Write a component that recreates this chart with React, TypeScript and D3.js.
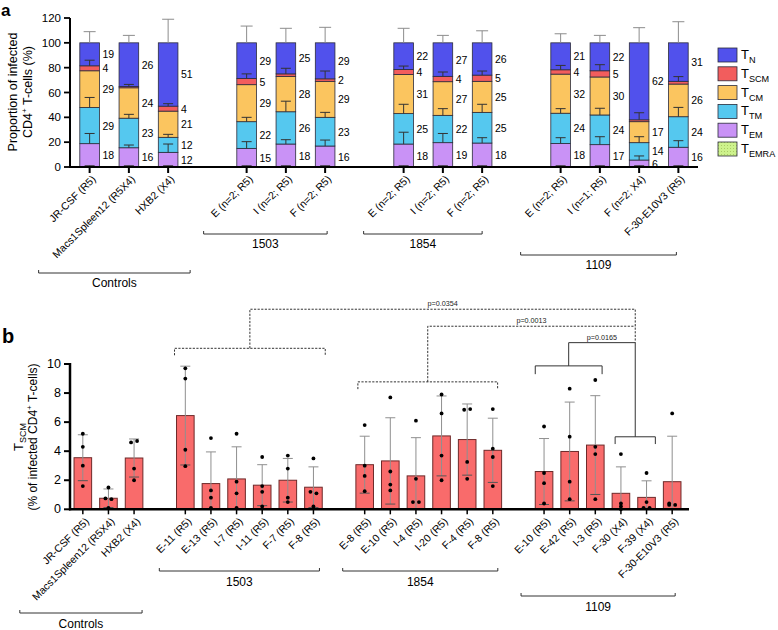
import React from 'react';
import * as d3 from 'd3';

const W = 778, H = 630;
const FONT = '"Liberation Sans", Arial, Helvetica, sans-serif';

// ---------------- Panel a data ----------------
const controlsA = ['JR-CSF (R5)', 'Macs1Spleen12 (R5X4)', 'HXB2 (X4)'];
const p1503A = ['E (n=2; R5)', 'I (n=2; R5)', 'F (n=2; R5)'];
const p1854A = ['E (n=2; R5)', 'I (n=2; R5)', 'F (n=2; R5)'];
const p1109A = ['E (n=2; R5)', 'I (n=1; R5)', 'F (n=2; X4)', 'F-30-E10V3 (R5)'];

const tEMRA = [0, 0, 0, 0, 0, 0, 0, 0, 0, 0, 0, 0, 0];
const tEM = [18.8, 15.5, 11.8, 15, 18.5, 16.9, 18.5, 19.6, 19.3, 19, 18, 5.6, 15.9];
const tTM = [29.2, 23.8, 12.1, 21.5, 26, 23.1, 24.5, 22, 24.7, 24.3, 23.9, 14, 24.6];
const tCM = [29.5, 24.5, 21.1, 29.8, 28.5, 29, 31.5, 27.1, 25, 31.5, 30.6, 16.9, 26.3];
const tSCM = [4, 1, 4, 5, 2, 2, 4, 4.3, 5, 3.5, 5, 1.5, 2.2];
const tN = [18.5, 35.2, 51, 28.7, 25, 29, 21.5, 27, 26, 21.7, 22.5, 62, 31];

const sdEMRA = [1, 1, 1, 1, 1, 1, 1, 1, 1, 1, 1, 1, 1];
const sdEM = [8.2, 2.2, 6.7, 5.4, 3.5, 4.8, 9.5, 7.4, 4.3, 4.6, 6.4, 3.3, 5.3];
const sdTM = [8, 3.1, 2.4, 3.5, 8.5, 4, 7.5, 5.4, 6.5, 3.7, 5.4, 4.8, 7.5];
const sdSCM = [4.5, 1.7, 2, 3.7, 4.5, 6.3, 2.8, 3.5, 3.3, 3.5, 4.9, 5.7, 3.8];
const sdN = [9, 6, 19, 13.5, 11.7, 12.5, 11.7, 6, 9.7, 7.3, 6, 12.2, 17];

const labEM = ['18', '16', '12', '15', '18', '16', '18', '19', '18', '18', '17', '6', '16'];
const labTM = ['29', '23', '12', '22', '26', '23', '25', '22', '25', '24', '24', '14', '24'];
const labCM = ['29', '24', '21', '29', '28', '29', '31', '27', '25', '32', '30', '17', '26'];
const labSCM = ['4', '', '4', '5', '', '2', '4', '4', '5', '4', '5', '', ''];
const labN = ['19', '26', '51', '29', '25', '29', '22', '27', '26', '21', '22', '62', '31'];

const yTicksA = [0, 20, 40, 60, 80, 100, 120];

// ---------------- Panel b data ----------------
const controlsB = ['JR-CSF (R5)', 'Macs1Spleen12 (R5X4)', 'HXB2 (X4)'];
const p1503B = ['E-11 (R5)', 'E-13 (R5)', 'I-7 (R5)', 'I-11 (R5)', 'F-7 (R5)', 'F-8 (R5)'];
const p1854B = ['E-8 (R5)', 'E-10 (R5)', 'I-4 (R5)', 'I-20 (R5)', 'F-4 (R5)', 'F-8 (R5)'];
const p1109B = ['E-10 (R5)', 'E-42 (R5)', 'I-3 (R5)', 'F-30 (X4)', 'F-39 (X4)', 'F-30-E10V3 (R5)'];

const meanB = [3.55, 0.76, 3.53, 6.45, 1.77, 2.09, 1.66, 2.0, 1.52, 3.07, 3.33, 2.3, 5.05, 4.8, 4.06, 2.6, 3.98, 4.42, 1.1, 0.82, 1.9];
const sdB = [1.58, 0.64, 1.31, 3.4, 2.18, 2.21, 1.41, 1.5, 1.4, 1.96, 2.97, 2.63, 2.75, 2.45, 2.21, 2.27, 3.4, 3.4, 1.82, 1.14, 3.13];
const ptsB = [
  [5.2, 4.3, 3.0, 1.6],
  [1.5, 0.75, 0.7, 0.1],
  [4.6, 4.7, 2.8, 2.0],
  [9.7, 9.0, 4.1, 2.97],
  [4.9, 1.3, 0.8, 0.1],
  [5.2, 1.9, 1.1, 0.1],
  [3.6, 1.6, 1.2, 0.2],
  [3.7, 2.8, 0.8, 0.5],
  [3.5, 1.2, 1.1, 0.2],
  [5.8, 3.0, 2.3, 1.25],
  [7.7, 2.6, 1.7, 1.3],
  [6.1, 2.1, 0.5, 0.5],
  [7.9, 6.6, 3.7, 2.0],
  [6.85, 6.9, 3.26, 2.1],
  [6.9, 4.17, 3.6, 1.6],
  [5.7, 2.5, 1.8, 0.4],
  [8.3, 5.0, 1.9, 0.7],
  [8.9, 4.3, 3.8, 0.7],
  [3.8, 0.4, 0.2, 0.0],
  [2.5, 0.5, 0.1, 0.1],
  [6.6, 0.4, 0.3, 0.3],
];
const yTicksB = [0, 2, 4, 6, 8, 10];
const pValues = ['p=0.0354', 'p=0.0013', 'p=0.0165'];

const COL = {
  N: '#5151ec',
  SCM: '#f25d5d',
  CM: '#fbc55f',
  TM: '#55c8ef',
  EM: '#c992f6',
  EMRA: '#cdf28c',
};

// ---------------- scales ----------------
const keysA: string[] = [];
const labelsA: { key: string; label: string }[] = [];
[['C', controlsA], ['g1'], ['1503', p1503A], ['g2'], ['1854', p1854A], ['g3'], ['1109', p1109A]].forEach((g: any) => {
  if (!g[1]) { keysA.push(g[0]); return; }
  g[1].forEach((l: string) => { const k = g[0] + '|' + l; keysA.push(k); labelsA.push({ key: k, label: l }); });
});
const xA = d3.scaleBand<string>().domain(keysA).range([70, 698]).paddingInner(0.5).paddingOuter(0.25);
const yA = d3.scaleLinear().domain([0, 120]).range([167, 18]);

const keysB: string[] = [];
const labelsB: { key: string; label: string }[] = [];
[['C', controlsB], ['g1'], ['1503', p1503B], ['g2'], ['1854', p1854B], ['g3'], ['1109', p1109B]].forEach((g: any) => {
  if (!g[1]) { keysB.push(g[0]); return; }
  g[1].forEach((l: string) => { const k = g[0] + '|' + l; keysB.push(k); labelsB.push({ key: k, label: l }); });
});
const xB = d3.scaleBand<string>().domain(keysB).range([70, 685]).paddingInner(0.313).paddingOuter(0.157);
const yB = d3.scaleLinear().domain([0, 10]).range([509.3, 364]);

const stackKeys = ['EMRA', 'EM', 'TM', 'CM', 'SCM', 'N'];
const rowsA = labelsA.map((d, i) => ({
  key: d.key, EMRA: tEMRA[i], EM: tEM[i], TM: tTM[i], CM: tCM[i], SCM: tSCM[i], N: tN[i],
}));
const stacked = d3.stack<any>().keys(stackKeys)(rowsA);
const sdMap: any = { EMRA: sdEMRA, EM: sdEM, TM: sdTM, SCM: sdSCM, N: sdN };
const labMap: any = { EM: labEM, TM: labTM, CM: labCM, SCM: labSCM, N: labN };

const cA = (k: string) => (xA(k) as number) + xA.bandwidth() / 2;
const cB = (k: string) => (xB(k) as number) + xB.bandwidth() / 2;

function Sub({ x, y, main, sub, size = 13 }: any) {
  return (
    <text x={x} y={y} fontSize={size} fontFamily={FONT}>
      {main}<tspan fontSize={size * 0.7} dy={size * 0.3}>{sub}</tspan>
    </text>
  );
}

export default function App() {
  const bwA = xA.bandwidth();
  const bwB = xB.bandwidth();

  const groupA = [
    { name: 'Controls', keys: controlsA.map(l => 'C|' + l), padL: 51, padR: -22, y: 273 },
    { name: '1503', keys: p1503A.map(l => '1503|' + l), padL: 43, padR: -2, y: 234 },
    { name: '1854', keys: p1854A.map(l => '1854|' + l), padL: 40, padR: 0, y: 234 },
    { name: '1109', keys: p1109A.map(l => '1109|' + l), padL: 40, padR: 2, y: 255 },
  ];
  const groupB = [
    { name: 'Controls', keys: controlsB.map(l => 'C|' + l), padL: 63, padR: -8, y: 613 },
    { name: '1503', keys: p1503B.map(l => '1503|' + l), padL: 26, padR: -6, y: 571 },
    { name: '1854', keys: p1854B.map(l => '1854|' + l), padL: 22, padR: -5, y: 571 },
    { name: '1109', keys: p1109B.map(l => '1109|' + l), padL: 23, padR: -3, y: 596 },
  ];

  // bracket geometry for panel b
  const kB = (g: string, l: string) => g + '|' + l;
  const br1503 = [cB(kB('1503', p1503B[0])) - bwB / 2 - 2, cB(kB('1503', p1503B[5])) + bwB / 2 + 3];
  const br1854 = [cB(kB('1854', p1854B[0])) - bwB / 2 + 2, cB(kB('1854', p1854B[5])) + bwB / 2 - 4];
  const brEI = [cB(kB('1109', p1109B[0])) - bwB / 2, cB(kB('1109', p1109B[2])) + bwB / 2 - 2];
  const brF = [cB(kB('1109', p1109B[3])) - bwB / 2 + 3, cB(kB('1109', p1109B[4])) + bwB / 2];
  const mid = (a: number[]) => (a[0] + a[1]) / 2;
  const dash = '2.2,1.4';

  return (
    <svg width={W} height={H} style={{ position: 'absolute', left: 0, top: 0, background: '#fff' }} fontFamily={FONT}>
      <defs>
        <pattern id="dots" width="3" height="3" patternUnits="userSpaceOnUse">
          <rect width="3" height="3" fill={COL.EMRA} />
          <circle cx="1.5" cy="1.5" r="0.5" fill="#9fbf5a" />
        </pattern>
      </defs>

      {/* ================= Panel a ================= */}
      <text x={1} y={16} fontSize={17} fontWeight="bold">a</text>

      {/* y axis title */}
      <text transform={`translate(17,92) rotate(-90)`} textAnchor="middle" fontSize={12.5}>Proportion of infected</text>
      <text transform={`translate(32,92) rotate(-90)`} textAnchor="middle" fontSize={12.5}>
        CD4<tspan fontSize={8} dy={-5}>+</tspan><tspan dy={5}> T-cells (%)</tspan>
      </text>

      {/* bars */}
      {stacked.map(layer => layer.map((d: any, i: number) => {
        const k = rowsA[i].key;
        const h = yA(d[0]) - yA(d[1]);
        if (h <= 0) return null;
        return (
          <rect key={layer.key + i} x={xA(k)} y={yA(d[1])} width={bwA} height={h}
            fill={layer.key === 'EMRA' ? 'url(#dots)' : (COL as any)[layer.key]} stroke="#2b2b3a" strokeWidth={0.8} />
        );
      }))}

      {/* error bars */}
      {stacked.map(layer => layer.map((d: any, i: number) => {
        const sds = sdMap[layer.key];
        if (!sds) return null;
        const k = rowsA[i].key;
        const cx = cA(k);
        const top = d[1] + sds[i];
        const isN = layer.key === 'N';
        const col = isN ? '#8c8c8c' : '#333';
        const cw = isN ? 6 : 5;
        return (
          <g key={'e' + layer.key + i} stroke={col} strokeWidth={1}>
            <line x1={cx} x2={cx} y1={yA(d[1])} y2={yA(top)} />
            <line x1={cx - cw} x2={cx + cw} y1={yA(top)} y2={yA(top)} />
          </g>
        );
      }))}

      {/* segment labels */}
      {stacked.map(layer => layer.map((d: any, i: number) => {
        const labs = labMap[layer.key];
        if (!labs || !labs[i]) return null;
        const k = rowsA[i].key;
        return (
          <text key={'l' + layer.key + i} x={(xA(k) as number) + bwA + 3} y={yA((d[0] + d[1]) / 2)}
            dominantBaseline="central" fontSize={10.5}>{labs[i]}</text>
        );
      }))}

      {/* axes */}
      <line x1={70} x2={70} y1={yA(120)} y2={yA(0) + 1} stroke="#000" strokeWidth={2} />
      <line x1={69} x2={698} y1={yA(0)} y2={yA(0)} stroke="#000" strokeWidth={2} />
      {yTicksA.map(t => (
        <g key={'ya' + t}>
          <line x1={64} x2={70} y1={yA(t)} y2={yA(t)} stroke="#000" strokeWidth={1.8} />
          <text x={61} y={yA(t)} textAnchor="end" dominantBaseline="central" fontSize={11.5}>{t}</text>
        </g>
      ))}
      {labelsA.map(d => (
        <g key={'xa' + d.key}>
          <line x1={cA(d.key)} x2={cA(d.key)} y1={yA(0)} y2={yA(0) + 6} stroke="#000" strokeWidth={2} />
          <text transform={`translate(${cA(d.key) + 4},${yA(0) + 10}) rotate(-45)`} textAnchor="end"
            dominantBaseline="central" fontSize={10.5}>{d.label}</text>
        </g>
      ))}

      {/* group brackets a */}
      {groupA.map(g => {
        const x1 = cA(g.keys[0]) - g.padL;
        const x2 = cA(g.keys[g.keys.length - 1]) - g.padR;
        return (
          <g key={'ga' + g.name}>
            <path d={`M${x1},${g.y - 3}V${g.y}H${x2}V${g.y - 3}`} fill="none" stroke="#333" strokeWidth={1} />
            <text x={(x1 + x2) / 2} y={g.y + 14} textAnchor="middle" fontSize={12}>{g.name}</text>
          </g>
        );
      })}

      {/* legend */}
      {[
        ['N', COL.N], ['SCM', COL.SCM], ['CM', COL.CM], ['TM', COL.TM], ['EM', COL.EM], ['EMRA', 'url(#dots)'],
      ].map((e, i) => (
        <g key={'lg' + e[0]}>
          <rect x={718} y={48 + i * 18.8} width={19} height={14} fill={e[1]} stroke="#2b2b3a" strokeWidth={0.8} />
          <Sub x={741} y={48 + i * 18.8 + 11} main="T" sub={e[0]} size={13} />
        </g>
      ))}

      {/* ================= Panel b ================= */}
      <text x={2} y={343} fontSize={20} fontWeight="bold">b</text>

      <text transform={`translate(23,437) rotate(-90)`} textAnchor="middle" fontSize={13}>
        T<tspan fontSize={9} dy={3}>SCM</tspan>
      </text>
      <text transform={`translate(37,437) rotate(-90)`} textAnchor="middle" fontSize={12}>
        (% of infected CD4<tspan fontSize={8} dy={-5}>+</tspan><tspan dy={5}> T-cells)</tspan>
      </text>

      {/* bars b */}
      {labelsB.map((d, i) => (
        <rect key={'bb' + i} x={xB(d.key)} y={yB(meanB[i])} width={bwB} height={yB(0) - yB(meanB[i])}
          fill="#f96b6b" stroke="#6e2a2a" strokeWidth={1} />
      ))}
      {/* error bars b */}
      {labelsB.map((d, i) => {
        const cx = cB(d.key);
        const hi = meanB[i] + sdB[i];
        const lo = meanB[i] - sdB[i];
        return (
          <g key={'eb' + i} stroke="#8f8f8f" strokeWidth={1}>
            <line x1={cx} x2={cx} y1={yB(hi)} y2={yB(Math.max(0, lo))} />
            <line x1={cx - 5} x2={cx + 5} y1={yB(hi)} y2={yB(hi)} />
            {lo > 0 && <line x1={cx - 5} x2={cx + 5} y1={yB(lo)} y2={yB(lo)} stroke="#555" />}
          </g>
        );
      })}
      {/* points */}
      {labelsB.map((d, i) => {
        const cx = cB(d.key);
        const vals = ptsB[i];
        return vals.map((v, j) => {
          let off = 0;
          for (let m = 0; m < vals.length; m++) {
            if (m !== j && Math.abs(vals[m] - v) < 0.2) { off = m < j ? 3 : -3; }
          }
          return <circle key={'p' + i + '_' + j} cx={cx + off} cy={yB(v)} r={1.9} fill="#000" />;
        });
      })}

      {/* axes b */}
      <line x1={70} x2={70} y1={yB(10) - 1} y2={yB(0) + 1} stroke="#000" strokeWidth={2.5} />
      <line x1={69} x2={689} y1={yB(0)} y2={yB(0)} stroke="#000" strokeWidth={2.5} />
      {yTicksB.map(t => (
        <g key={'yb' + t}>
          <line x1={64} x2={70} y1={yB(t)} y2={yB(t)} stroke="#000" strokeWidth={2} />
          <text x={61} y={yB(t)} textAnchor="end" dominantBaseline="central" fontSize={12.5}>{t}</text>
        </g>
      ))}
      {labelsB.map(d => (
        <g key={'xb' + d.key}>
          <line x1={cB(d.key)} x2={cB(d.key)} y1={yB(0)} y2={yB(0) + 5} stroke="#000" strokeWidth={1.5} />
          <text transform={`translate(${cB(d.key) + 4},${yB(0) + 10}) rotate(-45)`} textAnchor="end"
            dominantBaseline="central" fontSize={10.5}>{d.label}</text>
        </g>
      ))}

      {/* group brackets b */}
      {groupB.map(g => {
        const x1 = cB(g.keys[0]) - g.padL;
        const x2 = cB(g.keys[g.keys.length - 1]) - g.padR;
        return (
          <g key={'gb' + g.name}>
            <path d={`M${x1},${g.y - 3}V${g.y}H${x2}V${g.y - 3}`} fill="none" stroke="#333" strokeWidth={1} />
            <text x={(x1 + x2) / 2} y={g.y + 15} textAnchor="middle" fontSize={12}>{g.name}</text>
          </g>
        );
      })}

      {/* significance brackets */}
      <g fill="none" stroke="#333" strokeWidth={1}>
        <path d={`M${br1503[0]},${yB(10.6)}V${yB(11.08)}H${br1503[1]}V${yB(10.6)}`} strokeDasharray={dash} />
        <path d={`M${mid(br1503)},${yB(11.08)}V${yB(13.77)}H${mid(brF)}V${yB(11.47)}`} strokeDasharray={dash} />
        <path d={`M${br1854[0]},${yB(8.27)}V${yB(8.77)}H${br1854[1]}V${yB(8.27)}`} strokeDasharray={dash} />
        <path d={`M${mid(br1854)},${yB(8.77)}V${yB(12.6)}H${mid(brF)}`} strokeDasharray={dash} />
        <path d={`M${brEI[0]},${yB(9.3)}V${yB(9.87)}H${brEI[1]}V${yB(9.3)}`} />
        <path d={`M${mid(brEI)},${yB(9.87)}V${yB(11.47)}H${mid(brF)}V${yB(4.99)}`} />
        <path d={`M${brF[0]},${yB(4.49)}V${yB(4.99)}H${brF[1]}V${yB(4.49)}`} />
      </g>
      <g fontSize={7.2} textAnchor="middle" fill="#222">
        <text x={(mid(br1503) + mid(brF)) / 2} y={yB(13.77) - 3}>{pValues[0]}</text>
        <text x={(mid(br1854) + mid(brF)) / 2 + 0} y={yB(12.6) - 3}>{pValues[1]}</text>
        <text x={(mid(brEI) + mid(brF)) / 2} y={yB(11.47) - 3}>{pValues[2]}</text>
      </g>
    </svg>
  );
}
